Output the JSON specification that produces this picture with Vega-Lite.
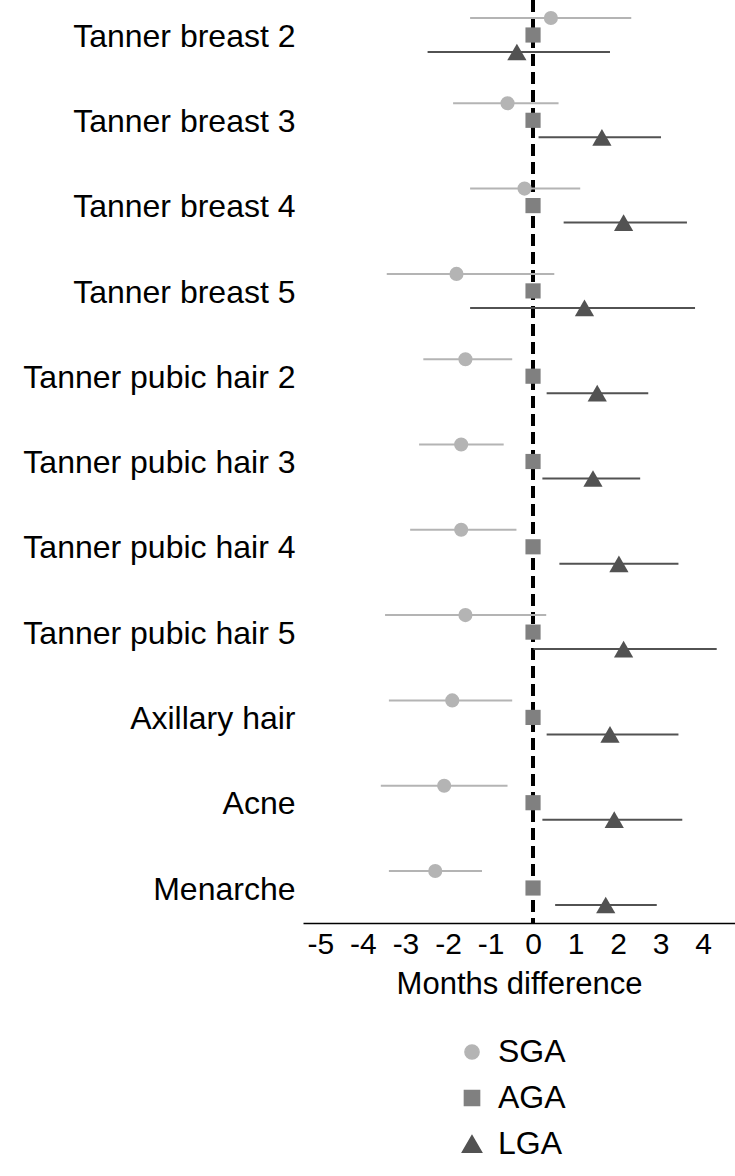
{
  "$schema": "https://vega.github.io/schema/vega-lite/v6.json",
  "autosize": "none",
  "width": 432,
  "height": 923,
  "padding": {"left": 303, "top": 0, "right": 0, "bottom": 253},
  "background": "white",
  "config": {
    "view": {"stroke": null},
    "font": "Liberation Sans",
    "axis": {"labelFont": "Liberation Sans", "titleFont": "Liberation Sans", "labelColor": "black", "titleColor": "black", "titleFontWeight": "normal"},
    "legend": {"labelFont": "Liberation Sans", "labelColor": "black"}
  },
  "data": {
    "values": [
      {"item": "Tanner breast 2", "group": "SGA", "est": 0.42, "lo": -1.48, "hi": 2.31},
      {"item": "Tanner breast 2", "group": "AGA", "est": 0},
      {"item": "Tanner breast 2", "group": "LGA", "est": -0.38, "lo": -2.48, "hi": 1.81},
      {"item": "Tanner breast 3", "group": "SGA", "est": -0.6, "lo": -1.88, "hi": 0.6},
      {"item": "Tanner breast 3", "group": "AGA", "est": 0},
      {"item": "Tanner breast 3", "group": "LGA", "est": 1.62, "lo": 0.13, "hi": 3.01},
      {"item": "Tanner breast 4", "group": "SGA", "est": -0.2, "lo": -1.48, "hi": 1.11},
      {"item": "Tanner breast 4", "group": "AGA", "est": 0},
      {"item": "Tanner breast 4", "group": "LGA", "est": 2.13, "lo": 0.72, "hi": 3.62},
      {"item": "Tanner breast 5", "group": "SGA", "est": -1.8, "lo": -3.44, "hi": 0.5},
      {"item": "Tanner breast 5", "group": "AGA", "est": 0},
      {"item": "Tanner breast 5", "group": "LGA", "est": 1.21, "lo": -1.48, "hi": 3.81},
      {"item": "Tanner pubic hair 2", "group": "SGA", "est": -1.59, "lo": -2.58, "hi": -0.49},
      {"item": "Tanner pubic hair 2", "group": "AGA", "est": 0},
      {"item": "Tanner pubic hair 2", "group": "LGA", "est": 1.51, "lo": 0.32, "hi": 2.71},
      {"item": "Tanner pubic hair 3", "group": "SGA", "est": -1.69, "lo": -2.68, "hi": -0.69},
      {"item": "Tanner pubic hair 3", "group": "AGA", "est": 0},
      {"item": "Tanner pubic hair 3", "group": "LGA", "est": 1.41, "lo": 0.22, "hi": 2.52},
      {"item": "Tanner pubic hair 4", "group": "SGA", "est": -1.69, "lo": -2.89, "hi": -0.39},
      {"item": "Tanner pubic hair 4", "group": "AGA", "est": 0},
      {"item": "Tanner pubic hair 4", "group": "LGA", "est": 2.02, "lo": 0.62, "hi": 3.42},
      {"item": "Tanner pubic hair 5", "group": "SGA", "est": -1.59, "lo": -3.48, "hi": 0.31},
      {"item": "Tanner pubic hair 5", "group": "AGA", "est": 0},
      {"item": "Tanner pubic hair 5", "group": "LGA", "est": 2.13, "lo": 0.01, "hi": 4.32},
      {"item": "Axillary hair", "group": "SGA", "est": -1.9, "lo": -3.39, "hi": -0.49},
      {"item": "Axillary hair", "group": "AGA", "est": 0},
      {"item": "Axillary hair", "group": "LGA", "est": 1.81, "lo": 0.32, "hi": 3.42},
      {"item": "Acne", "group": "SGA", "est": -2.09, "lo": -3.58, "hi": -0.6},
      {"item": "Acne", "group": "AGA", "est": 0},
      {"item": "Acne", "group": "LGA", "est": 1.91, "lo": 0.22, "hi": 3.51},
      {"item": "Menarche", "group": "SGA", "est": -2.3, "lo": -3.39, "hi": -1.2},
      {"item": "Menarche", "group": "AGA", "est": 0},
      {"item": "Menarche", "group": "LGA", "est": 1.71, "lo": 0.52, "hi": 2.91}
    ]
  },
  "layer": [
    {
      "mark": {"type": "rule", "color": "black", "strokeWidth": 2.5, "strokeDash": [12, 6]},
      "encoding": {"x": {"datum": 0}}
    },
    {
      "transform": [{"filter": "isValid(datum.lo)"}],
      "mark": {"type": "rule", "strokeWidth": 2},
      "encoding": {
        "y": {"field": "item", "type": "nominal"},
        "yOffset": {"field": "group", "type": "nominal"},
        "x": {"field": "lo", "type": "quantitative"},
        "x2": {"field": "hi"},
        "color": {"field": "group", "type": "nominal"}
      }
    },
    {
      "mark": {"type": "point", "filled": true, "opacity": 1},
      "encoding": {
        "y": {
          "field": "item", "type": "nominal",
          "scale": {"type": "band", "paddingInner": 0, "paddingOuter": 0, "range": [0, 938.3],
            "domain": ["Tanner breast 2", "Tanner breast 3", "Tanner breast 4", "Tanner breast 5", "Tanner pubic hair 2", "Tanner pubic hair 3", "Tanner pubic hair 4", "Tanner pubic hair 5", "Axillary hair", "Acne", "Menarche"]},
          "axis": {"title": null, "ticks": false, "domain": false, "labelFontSize": 32, "labelPadding": 8, "labelLimit": 400, "labelOffset": -6}
        },
        "yOffset": {
          "field": "group", "type": "nominal",
          "scale": {"type": "point", "domain": ["SGA", "AGA", "LGA"], "range": [18, 52], "padding": 0}
        },
        "x": {
          "field": "est", "type": "quantitative",
          "scale": {"domain": [-5.41, 4.75], "nice": false, "zero": false},
          "axis": {"title": "Months difference", "values": [-5, -4, -3, -2, -1, 0, 1, 2, 3, 4], "labelExpr": "datum.value < 0 ? '-' + abs(datum.value) : '' + datum.value", "ticks": false, "grid": false, "domainColor": "black", "domainWidth": 1.5, "labelFontSize": 30, "labelPadding": 6, "titleFontSize": 31, "titlePadding": 10}
        },
        "color": {
          "field": "group", "type": "nominal",
          "scale": {"domain": ["SGA", "AGA", "LGA"], "range": ["#b4b4b4", "#808080", "#525252"]},
          "legend": {"title": null, "orient": "none", "legendX": 153, "legendY": 1036, "direction": "vertical", "labelFontSize": 32, "labelOffset": 10, "rowPadding": 14, "symbolOpacity": 1}
        },
        "shape": {
          "field": "group", "type": "nominal",
          "scale": {"domain": ["SGA", "AGA", "LGA"], "range": ["circle", "square", "triangle-up"]}
        },
        "size": {
          "field": "group", "type": "nominal",
          "scale": {"type": "ordinal", "domain": ["SGA", "AGA", "LGA"], "range": [200, 230, 370]}
        }
      }
    }
  ]
}
